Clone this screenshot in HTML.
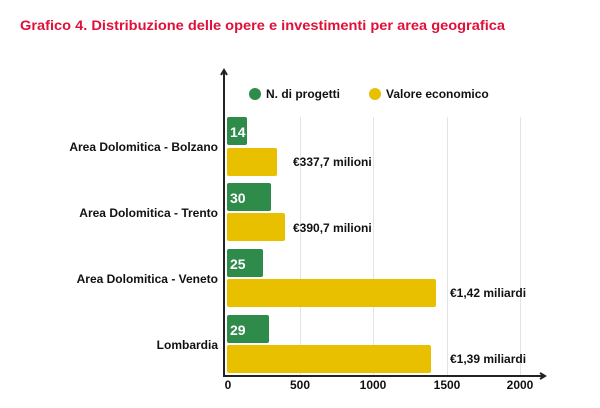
<!DOCTYPE html>
<html><head><meta charset="utf-8"><style>
body{margin:0;background:#fff;}
svg{display:block;font-family:"Liberation Sans",sans-serif;}
</style></head><body>
<svg width="600" height="408" viewBox="0 0 600 408">
<text x="20" y="30" font-size="14" font-weight="bold" fill="#e0103a" textLength="485" lengthAdjust="spacingAndGlyphs">Grafico 4. Distribuzione delle opere e investimenti per area geografica</text>
<g stroke="#e4e4e4" stroke-width="1">
<line x1="300.5" y1="117" x2="300.5" y2="375"/>
<line x1="373.5" y1="117" x2="373.5" y2="375"/>
<line x1="447.5" y1="117" x2="447.5" y2="375"/>
<line x1="520.5" y1="117" x2="520.5" y2="375"/>
</g>
<g fill="#2e8b4a">
<rect x="227" y="117" width="20" height="28" rx="2"/>
<rect x="227" y="183" width="44" height="28" rx="2"/>
<rect x="227" y="249" width="36" height="28" rx="2"/>
<rect x="227" y="315" width="42" height="28" rx="2"/>
</g>
<g fill="#e8c000">
<rect x="227" y="148" width="50" height="28" rx="2"/>
<rect x="227" y="213" width="58" height="28" rx="2"/>
<rect x="227" y="279" width="209" height="28" rx="2"/>
<rect x="227" y="345" width="204" height="28" rx="2"/>
</g>
<g fill="#fff" font-weight="bold" font-size="14">
<text x="230" y="137">14</text>
<text x="230" y="203">30</text>
<text x="230" y="269">25</text>
<text x="230" y="335">29</text>
</g>
<g fill="#111" font-weight="bold" font-size="12">
<text x="293" y="166">€337,7 milioni</text>
<text x="293" y="232">€390,7 milioni</text>
<text x="450" y="297">€1,42 miliardi</text>
<text x="450" y="363">€1,39 miliardi</text>
</g>
<g fill="#111" font-weight="bold" font-size="12" text-anchor="end">
<text x="218" y="151">Area Dolomitica - Bolzano</text>
<text x="218" y="217">Area Dolomitica - Trento</text>
<text x="218" y="283">Area Dolomitica - Veneto</text>
<text x="218" y="349">Lombardia</text>
</g>
<circle cx="255" cy="94" r="6" fill="#2e8b4a"/>
<text x="266" y="98" font-size="12" font-weight="bold" fill="#111">N. di progetti</text>
<circle cx="375" cy="94" r="6" fill="#e8c000"/>
<text x="386" y="98" font-size="12" font-weight="bold" fill="#111">Valore economico</text>
<g stroke="#222" stroke-width="2" fill="none">
<line x1="224" y1="72" x2="224" y2="377"/>
<line x1="223" y1="376" x2="544" y2="376"/>
<polyline points="221,75 224,70 227,75"/>
<polyline points="540,373 545,376 540,379"/>
</g>
<g fill="#111" font-weight="bold" font-size="12" text-anchor="middle">
<text x="228" y="389">0</text>
<text x="300" y="389">500</text>
<text x="373" y="389">1000</text>
<text x="447" y="389">1500</text>
<text x="520" y="389">2000</text>
</g>
</svg>
</body></html>
